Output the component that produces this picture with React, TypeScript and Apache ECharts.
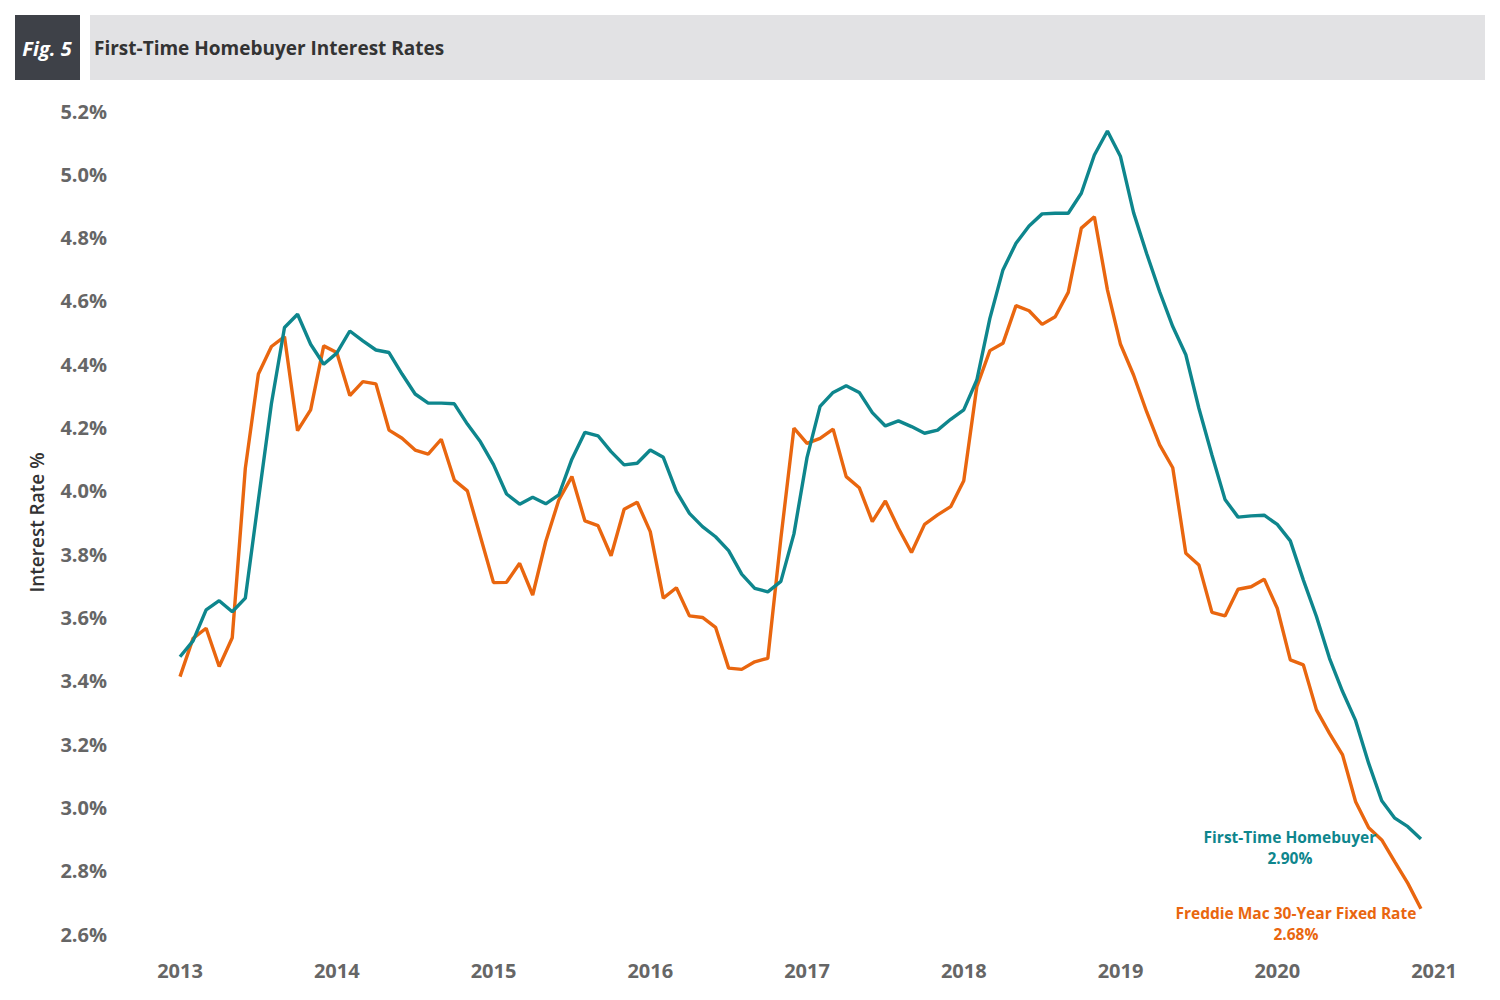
import React, { useEffect, useRef } from "react";
import * as echarts from "echarts";

const startYear = 2013;
const endYear = 2021;
const yearTicks = ["2013", "2014", "2015", "2016", "2017", "2018", "2019", "2020", "2021"];

// Monthly categories Jan 2013 .. Jan 2021
const months: string[] = [];
for (let y = startYear; y < endYear; y++) {
  for (let m = 1; m <= 12; m++) months.push(`${y}-${String(m).padStart(2, "0")}`);
}
months.push(`${endYear}-01`);

const firstTimeHomebuyer = [
  3.476, 3.526, 3.624, 3.653, 3.618, 3.661, 3.97, 4.276, 4.516, 4.558, 4.463, 4.4,
  4.435, 4.505, 4.474, 4.445, 4.437, 4.369, 4.306, 4.277, 4.277, 4.275, 4.211, 4.155,
  4.083, 3.99, 3.958, 3.98, 3.959, 3.987, 4.1, 4.185, 4.174, 4.124, 4.082, 4.087,
  4.129, 4.106, 3.998, 3.929, 3.887, 3.855, 3.811, 3.737, 3.692, 3.681, 3.714, 3.864,
  4.105, 4.267, 4.311, 4.332, 4.311, 4.247, 4.205, 4.221, 4.203, 4.182, 4.192, 4.226,
  4.256, 4.35, 4.545, 4.698, 4.782, 4.837, 4.875, 4.877, 4.877, 4.94, 5.061, 5.137,
  5.056, 4.879, 4.75, 4.629, 4.519, 4.43, 4.261, 4.113, 3.973, 3.917, 3.921, 3.923,
  3.894, 3.842, 3.718, 3.603, 3.471, 3.366, 3.274, 3.139, 3.021, 2.966, 2.939, 2.9,
];

const freddieMac30 = [
  3.413, 3.534, 3.566, 3.445, 3.536, 4.071, 4.369, 4.456, 4.487, 4.19, 4.256, 4.458,
  4.437, 4.301, 4.345, 4.338, 4.192, 4.166, 4.129, 4.116, 4.163, 4.034, 4.0, 3.855,
  3.71, 3.711, 3.771, 3.671, 3.84, 3.971, 4.045, 3.905, 3.89, 3.795, 3.942, 3.964,
  3.871, 3.661, 3.694, 3.605, 3.6, 3.569, 3.44, 3.436, 3.46, 3.471, 3.85, 4.198,
  4.15, 4.166, 4.195, 4.045, 4.01, 3.903, 3.968, 3.882, 3.805, 3.894, 3.924, 3.95,
  4.032, 4.329, 4.443, 4.466, 4.585, 4.569, 4.526, 4.55, 4.627, 4.83, 4.866, 4.635,
  4.463, 4.366, 4.25, 4.145, 4.073, 3.803, 3.766, 3.616, 3.605, 3.689, 3.697, 3.721,
  3.629, 3.466, 3.45, 3.308, 3.234, 3.166, 3.018, 2.936, 2.897, 2.828, 2.76, 2.68,
];

const seriesNames = ["First-Time Homebuyer", "Freddie Mac 30-Year Fixed Rate"];
const TEAL = "#0e868d";
const ORANGE = "#e9660f";
const FONT = "'Open Sans', 'Noto Sans', sans-serif";

function endMark(values: number[], name: string, color: string, offset: number[]) {
  const last = values.length - 1;
  return {
    symbol: "circle",
    symbolSize: 0,
    silent: true,
    data: [
      {
        coord: [months[last], values[last]],
        label: {
          show: true,
          position: "inside",
          offset,
          formatter: () => `${name}\n${values[last].toFixed(2)}%`,
          color,
          fontFamily: FONT,
          fontWeight: 700,
          fontSize: 15.5,
          lineHeight: 21,
          align: "center",
          verticalAlign: "middle",
        },
      },
    ],
  };
}

export default function App() {
  const ref = useRef<HTMLDivElement>(null);
  useEffect(() => {
    document.body.style.margin = "0";
    if (!ref.current) return;
    const chart = echarts.init(ref.current, undefined, { renderer: "svg" });
    chart.setOption({
      animation: false,
      backgroundColor: "#ffffff",
      graphic: [
        { type: "rect", shape: { x: 15, y: 15, width: 65, height: 65 }, style: { fill: "#3e4148" } },
        { type: "rect", shape: { x: 90, y: 15, width: 1395, height: 65 }, style: { fill: "#e2e2e4" } },
        {
          type: "text",
          x: 47,
          y: 48,
          style: {
            text: "Fig. 5",
            fill: "#ffffff",
            font: `italic 700 20px ${FONT}`,
            align: "center",
            verticalAlign: "middle",
          },
        },
        {
          type: "text",
          x: 94,
          y: 48,
          style: {
            text: "First-Time Homebuyer Interest Rates",
            fill: "#333333",
            font: `700 19px ${FONT}`,
            align: "left",
            verticalAlign: "middle",
          },
        },
      ],
      grid: { left: 180, right: 66, top: 111, bottom: 66, containLabel: false },
      xAxis: {
        type: "category",
        data: months,
        boundaryGap: false,
        axisLine: { show: false },
        axisTick: { show: false },
        splitLine: { show: false },
        axisLabel: {
          interval: (idx: number) => idx % 12 === 0,
          formatter: (v: string) => {
            const y = v.slice(0, 4);
            return yearTicks.includes(y) ? y : "";
          },
          color: "#666666",
          fontFamily: FONT,
          fontWeight: 700,
          fontSize: 20,
          margin: 26,
        },
      },
      yAxis: {
        type: "value",
        min: 2.6,
        max: 5.2,
        interval: 0.2,
        name: "Interest Rate %",
        nameLocation: "middle",
        nameRotate: 90,
        nameGap: 134,
        nameTextStyle: { color: "#333333", fontFamily: FONT, fontWeight: 600, fontSize: 19 },
        axisLine: { show: false },
        axisTick: { show: false },
        splitLine: { show: false },
        axisLabel: {
          formatter: (v: number) => `${v.toFixed(1)}%`,
          color: "#666666",
          fontFamily: FONT,
          fontWeight: 700,
          fontSize: 20,
          margin: 73,
        },
      },
      series: [
        {
          name: seriesNames[0],
          type: "line",
          data: firstTimeHomebuyer,
          showSymbol: false,
          symbol: "none",
          lineStyle: { color: TEAL, width: 3.4 },
          itemStyle: { color: TEAL },
          markPoint: endMark(firstTimeHomebuyer, seriesNames[0], TEAL, [-131, 8]),
          z: 3,
        },
        {
          name: seriesNames[1],
          type: "line",
          data: freddieMac30,
          showSymbol: false,
          symbol: "none",
          lineStyle: { color: ORANGE, width: 3.4 },
          itemStyle: { color: ORANGE },
          markPoint: endMark(freddieMac30, seriesNames[1], ORANGE, [-125, 15]),
          z: 2,
        },
      ],
    });
    return () => chart.dispose();
  }, []);
  return <div ref={ref} style={{ width: 1500, height: 1000 }} />;
}
